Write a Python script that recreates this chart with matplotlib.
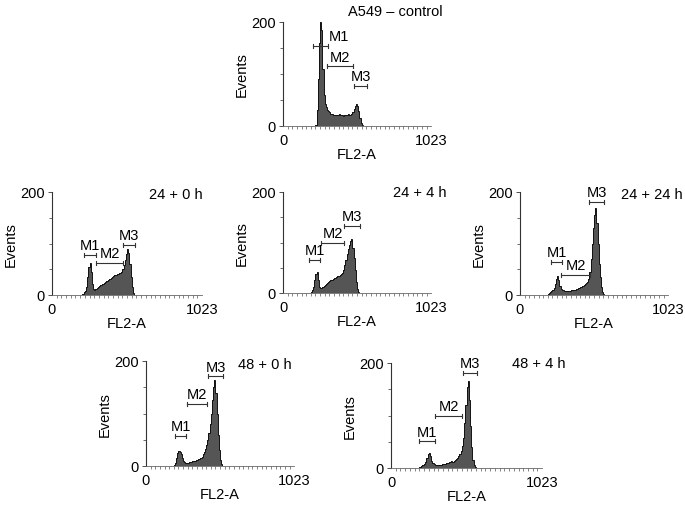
import numpy as np
import matplotlib
matplotlib.use("Agg")
import matplotlib.pyplot as plt

plt.rcParams['font.family'] = ['Liberation Sans', 'DejaVu Sans']

BIN_WIDTH = 8

titles = ["A549 – control", "24 + 0 h", "24 + 4 h", "24 + 24 h", "48 + 0 h", "48 + 4 h"]

# histogram counts (8-channel bins) and first bin start per panel
control_start = 224
control_counts = [2, 30, 90, 160, 200, 185, 110, 60, 42, 36, 31, 28, 26, 24, 23, 22, 22, 21, 22,
                  21, 23, 21, 22, 21, 20, 22, 21, 22, 23, 21, 22, 24, 27, 32, 38, 42, 39, 28, 16, 6, 1, 0]

h24_0_start = 200
h24_0_counts = [0, 2, 5, 8, 15, 35, 55, 63, 45, 22, 12, 10, 11, 13, 15, 17, 19, 20, 22, 24, 25, 27,
                28, 30, 32, 33, 35, 37, 38, 39, 40, 41, 42, 43, 45, 50, 58, 68, 80, 89, 82, 60, 35,
                15, 4, 0]

h24_4_start = 192
h24_4_counts = [2, 6, 12, 25, 38, 41, 25, 12, 9, 10, 12, 14, 16, 18, 19, 21, 23, 25, 26, 28, 29, 30,
                32, 33, 34, 35, 37, 40, 46, 55, 65, 78, 88, 95, 103, 106, 90, 70, 45, 22, 8, 2, 0]

h24_24_start = 192
h24_24_counts = [2, 4, 6, 8, 10, 14, 22, 32, 37, 30, 18, 12, 10, 9, 8, 8, 7, 8, 8, 8, 9, 9, 10, 10,
                 11, 12, 13, 14, 15, 16, 17, 19, 21, 23, 26, 32, 45, 70, 100, 130, 155, 168, 140,
                 100, 60, 35, 15, 5, 1, 0]

h48_0_start = 192
h48_0_counts = [1, 5, 15, 24, 28, 27, 22, 15, 10, 8, 6, 6, 6, 7, 8, 8, 9, 10, 10, 11, 12, 13, 14, 16,
                18, 22, 26, 32, 40, 50, 62, 80, 100, 125, 150, 163, 140, 100, 60, 30, 12, 3, 0]

h48_4_start = 192
h48_4_counts = [1, 3, 5, 6, 8, 12, 20, 27, 28, 22, 14, 9, 7, 6, 5, 5, 5, 6, 6, 7, 7, 8, 8, 9, 10, 11,
                11, 13, 12, 14, 15, 17, 19, 22, 27, 33, 42, 58, 85, 120, 155, 166, 130, 80, 40, 15,
                5, 1, 0]

# marker gates: (start, end, height)
control_markers = [(207, 311, 154), (304, 484, 115), (491, 581, 77)]
h24_0_markers = [(218, 300, 78), (300, 484, 62), (484, 566, 97)]
h24_4_markers = [(180, 256, 66), (263, 422, 99), (422, 532, 133)]
h24_24_markers = [(214, 290, 64), (283, 484, 39), (477, 580, 181)]
h48_0_markers = [(201, 276, 57), (283, 425, 118), (429, 532, 171)]
h48_4_markers = [(190, 298, 51), (298, 481, 99), (488, 583, 181)]

marker_names = ["M1", "M2", "M3"]

x_ticks = [0, 1023]
y_ticks = [0, 200]
y_minor = [50, 100, 150]

W, H = 685, 506
# axes pixel boxes: left, right, top, bottom
boxes = [(283, 431, 23, 127), (52, 202, 193, 296), (283, 431, 193, 294),
         (520, 668, 193, 296), (146, 294, 362, 467), (391, 542, 364, 469)]
title_pos = [(443, 12), (203, 195), (447, 193), (683, 195), (292, 365), (565, 364)]

panels = [
    (control_start, control_counts, control_markers),
    (h24_0_start, h24_0_counts, h24_0_markers),
    (h24_4_start, h24_4_counts, h24_4_markers),
    (h24_24_start, h24_24_counts, h24_24_markers),
    (h48_0_start, h48_0_counts, h48_0_markers),
    (h48_4_start, h48_4_counts, h48_4_markers),
]

fig = plt.figure(figsize=(6.85, 5.06), dpi=100)
FS = 10.5

for i, ((start, counts, markers), box, title, tp) in enumerate(zip(panels, boxes, titles, title_pos)):
    l, r, t, b = box
    ax = fig.add_axes([l / W, 1 - b / H, (r - l) / W, (b - t) / H])
    counts = np.array(counts, dtype=float)
    edges = start + BIN_WIDTH * np.arange(len(counts) + 1)
    ax.stairs(counts, edges, fill=True, color='#555555', lw=0)
    ax.stairs(counts, edges, color='#111111', lw=0.7)
    ax.set_xlim(0, 1023)
    ax.set_ylim(0, 200)
    for s in ['top', 'right']:
        ax.spines[s].set_visible(False)
    ax.spines['left'].set_color('#333333')
    ax.spines['left'].set_linewidth(0.8)
    ax.spines['bottom'].set_color('#666666')
    ax.spines['bottom'].set_linewidth(0.6)
    ax.set_xticks(x_ticks)
    ax.set_yticks(y_ticks)
    ax.set_yticks(y_minor, minor=True)
    ax.set_xticks(np.arange(32, 1023, 32), minor=True)
    ax.tick_params(axis='y', which='major', length=3, width=0.6, labelsize=FS, pad=2, color='#333333')
    ax.tick_params(axis='y', which='minor', length=2, width=0.6, color='#555555')
    ax.tick_params(axis='x', which='major', length=0, labelsize=FS, pad=5)
    ax.tick_params(axis='x', which='minor', length=2, width=0.5, color='#555555')
    ax.set_xlabel("FL2-A", fontsize=FS, labelpad=0)
    ax.set_ylabel("Events", fontsize=FS, labelpad=2)
    # markers
    for j, (x0, x1, y) in enumerate(markers):
        ax.plot([x0, x1], [y, y], color='#333333', lw=0.8, clip_on=False)
        for xe in (x0, x1):
            ax.plot([xe, xe], [y - 4, y + 4], color='#333333', lw=0.8, clip_on=False)
        if i == 0 and j == 0:
            ax.text(x1 + 5, y + 6, marker_names[j], fontsize=FS, ha='left', va='bottom')
        else:
            ax.text((x0 + x1) / 2, y + 5, marker_names[j], fontsize=FS, ha='center', va='bottom')
    fig.text(tp[0] / W, 1 - tp[1] / H, title, fontsize=FS, ha='right', va='center')

fig.savefig("out.png", dpi=100)
